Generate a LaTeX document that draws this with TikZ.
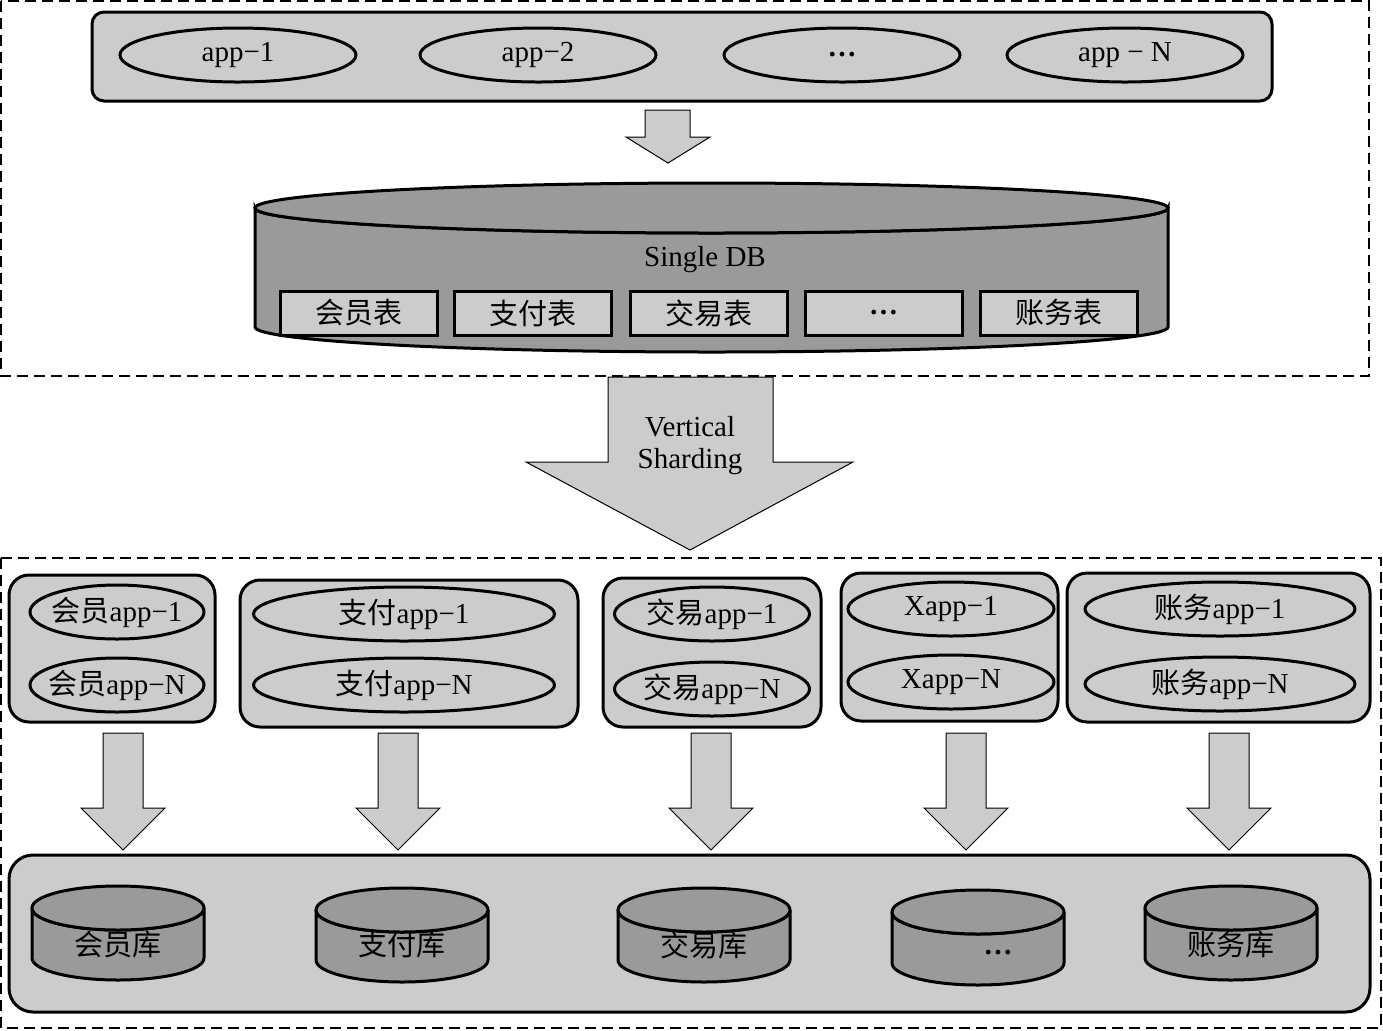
\documentclass[tikz,border=0pt]{standalone}
\usepackage{fontspec}
\setmainfont{Liberation Serif}
\newfontfamily\cjk{Noto Sans CJK SC}
\usetikzlibrary{shapes.geometric}
\definecolor{lgray}{HTML}{CCCCCC}
\definecolor{dgray}{HTML}{9A9A9A}
\newcommand\zt[1]{\makebox[0pt]{#1}}
\newcommand\mycyl[6]{% name, x, ytop, ybot, text y, text
  \path[draw, fill=dgray, line width=1.5pt] (#2-86,#3) -- (#2-86,#4)
    arc[start angle=180,end angle=360,x radius=43pt,y radius=11pt] -- (#2+86,#3)
    arc[start angle=0,end angle=-180,x radius=43pt,y radius=11pt] -- cycle;
  \draw[fill=dgray, line width=1.5pt] (#2,#3) ellipse[x radius=43pt, y radius=11pt];
  \node[txt] (#1) at (#2,#5) {#6};
}
\newcommand\downarr[1]{% x center
  \draw[blk] (#1-20,733) -- (#1+20,733) -- (#1+20,808) -- (#1+42,808) -- (#1,850)
    -- (#1-42,808) -- (#1-20,808) -- cycle;
}
\begin{document}
\begin{tikzpicture}[x=0.5pt,y=-0.5pt,
  txt/.style={font=\fontsize{14.5}{16}\selectfont, inner sep=0pt},
  frame/.style={draw, line width=1pt, dash pattern=on 5.5pt off 3pt},
  grp/.style={draw, fill=lgray, line width=1.5pt, rounded corners=10pt, inner sep=0pt},
  app/.style={ellipse, draw, fill=lgray, line width=1.5pt, inner sep=0pt,
    font=\fontsize{14.5}{16}\selectfont, minimum height=27pt},
  tbl/.style={draw, fill=lgray, line width=1.5pt, inner sep=0pt,
    minimum width=78.5pt, minimum height=22pt, font=\fontsize{14.5}{16}\selectfont},
  blk/.style={draw, fill=lgray, line width=0.5pt, line join=miter}]
\useasboundingbox (0,0) rectangle (1383,1030);
% frames
\draw[frame] (1,1) rectangle (1369,376);
\draw[frame] (1,558) rectangle (1381,1028);
% top apps
\node[grp, rounded corners=6pt, minimum width=590pt, minimum height=44.5pt] (top) at (682,56.5) {};
\node[app, minimum width=118pt] (a1) at (238,55) {\zt{app−1}};
\node[app, minimum width=118pt] (a2) at (538,55) {\zt{app−2}};
\node[app, minimum width=118pt] (a3) at (842,55) {\zt{\textbf{…}}};
\node[app, minimum width=118pt] (a4) at (1125,55) {\zt{app − N}};
% small arrow
\draw[blk] (645,110) -- (690,110) -- (690,137) -- (710,137) -- (668,163) -- (626,137) -- (645,137) -- cycle;
% single DB cylinder
\path[draw, fill=dgray, line width=1.5pt] (255,208) -- (255,327)
  arc[start angle=180,end angle=360,x radius=228.25pt,y radius=12.5pt] -- (1168,208)
  arc[start angle=0,end angle=-180,x radius=228.25pt,y radius=12.5pt] -- cycle;
\draw[fill=dgray, line width=1.5pt] (711.5,208) ellipse[x radius=228.25pt, y radius=12.5pt];
\node[txt] (sdb) at (705,260) {Single DB};
\node[tbl] (t1) at (358.5,313) {\cjk 会员表};
\node[tbl] (t2) at (532.5,313) {\cjk 支付表};
\node[tbl] (t3) at (708.5,313) {\cjk 交易表};
\node[tbl] (t4) at (883.5,313) {\textbf{…}};
\node[tbl] (t5) at (1058.5,313) {\cjk 账务表};
% big arrow
\draw[blk] (608,377) -- (773,377) -- (773,462) -- (853,462) -- (690,550) -- (526,462) -- (608,462) -- cycle;
\node[txt] (v1) at (690,427) {Vertical};
\node[txt] (v2) at (690,462) {Sharding};
% groups
\node[grp, minimum width=103pt, minimum height=73.5pt] (g1) at (112,648.5) {};
\node[grp, minimum width=169pt, minimum height=73.5pt] (g2) at (409,653.5) {};
\node[grp, minimum width=109pt, minimum height=74.5pt] (g3) at (712,652.5) {};
\node[grp, minimum width=108.5pt, minimum height=74pt] (g4) at (949.5,647) {};
\node[grp, minimum width=151.5pt, minimum height=74.5pt] (g5) at (1218.5,647.5) {};
\node[app, minimum width=87pt] (e11) at (117,612) {\zt{{\cjk 会员}app−1}};
\node[app, minimum width=87pt] (e12) at (117,685) {\zt{{\cjk 会员}app−N}};
\node[app, minimum width=150.5pt] (e21) at (404,614) {\zt{{\cjk 支付}app−1}};
\node[app, minimum width=150.5pt] (e22) at (404,685) {\zt{{\cjk 支付}app−N}};
\node[app, minimum width=97.5pt] (e31) at (712,614) {\zt{{\cjk 交易}app−1}};
\node[app, minimum width=97.5pt] (e32) at (712,689) {\zt{{\cjk 交易}app−N}};
\node[app, minimum width=103pt] (e41) at (951,609) {\zt{Xapp−1}};
\node[app, minimum width=103pt] (e42) at (951,682) {\zt{Xapp−N}};
\node[app, minimum width=135pt] (e51) at (1220,609) {\zt{{\cjk 账务}app−1}};
\node[app, minimum width=135pt] (e52) at (1220,684) {\zt{{\cjk 账务}app−N}};
% down arrows
\downarr{123}
\downarr{398}
\downarr{711}
\downarr{966}
\downarr{1229}
% bottom box
\node[grp, rounded corners=12pt, minimum width=680.5pt, minimum height=78.5pt] (bot) at (689.5,933.5) {};
\mycyl{c1}{118}{908}{958}{945}{\cjk 会员库}
\mycyl{c2}{402}{910}{960}{945}{\cjk 支付库}
\mycyl{c3}{704}{910}{960}{945}{\cjk 交易库}
\mycyl{c4}{978}{912}{963}{953}{\hspace*{20pt}\textbf{…}}
\mycyl{c5}{1231}{908}{958}{945}{\cjk 账务库}
\end{tikzpicture}
\end{document}
